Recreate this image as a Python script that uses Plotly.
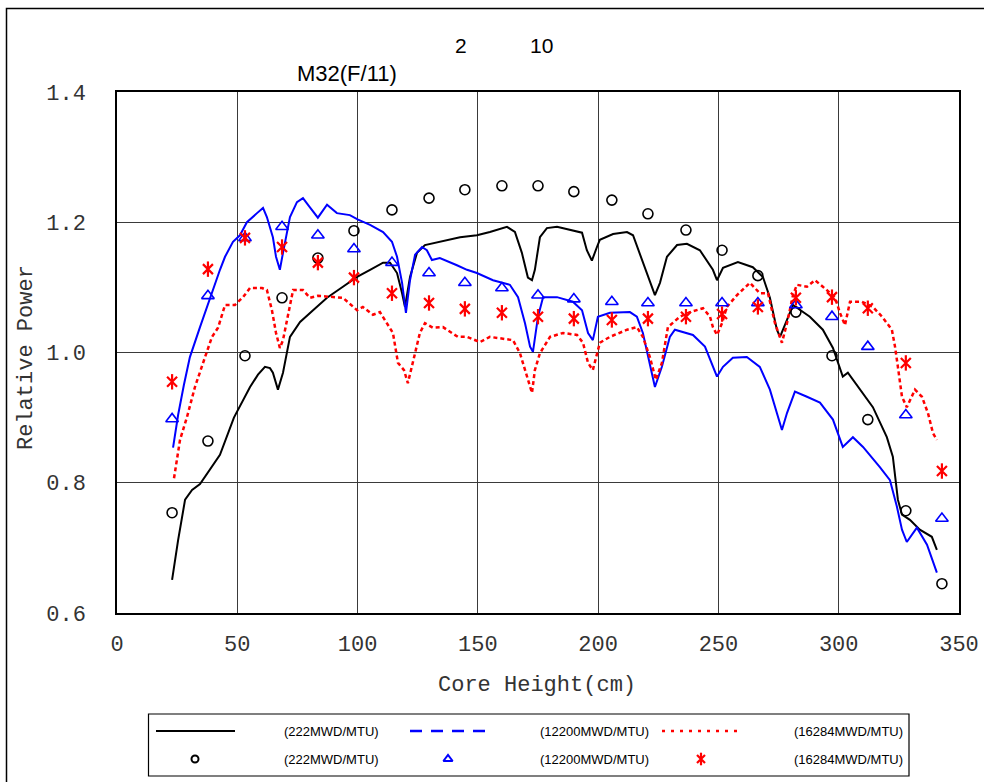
import plotly.graph_objects as go

W, H = 984, 782

# ---------------- data ----------------
# calculated lines
x_222 = [22.9, 25.4, 28.3, 31.2, 34.5, 38.7, 42.8, 48.6, 55.3, 58.6, 61.5, 63.6, 64.8, 66.9, 69.0,
         71.9, 76.1, 81.5, 87.3, 93.9, 99.8, 105.2, 110.6, 113.5, 116.4, 118.5, 119.7, 121.8, 124.7,
         128.0, 134.2, 142.6, 149.6, 155.0, 162.1, 165.4, 168.3, 170.8, 172.5, 173.7, 175.8, 178.7,
         182.9, 189.5, 193.3, 195.3, 197.4, 199.5, 200.7, 206.2, 212.0, 214.5, 218.2, 221.5, 223.6,
         225.7, 228.6, 232.8, 236.9, 242.3, 247.7, 249.4, 251.9, 258.1, 264.3, 268.5, 271.4, 274.3,
         275.6, 278.5, 281.0, 288.0, 293.4, 297.6, 301.7, 303.8, 308.8, 314.2, 320.0, 322.5, 324.6,
         326.3, 329.6, 333.7, 338.7, 340.8]
y_222 = [0.651, 0.712, 0.774, 0.789, 0.798, 0.820, 0.843, 0.900, 0.947, 0.966, 0.978, 0.976, 0.969,
         0.943, 0.969, 1.024, 1.047, 1.065, 1.084, 1.101, 1.116, 1.127, 1.138, 1.138, 1.122, 1.091,
         1.070, 1.116, 1.153, 1.165, 1.170, 1.177, 1.180, 1.185, 1.193, 1.185, 1.153, 1.115, 1.111,
         1.127, 1.177, 1.191, 1.193, 1.188, 1.184, 1.157, 1.141, 1.162, 1.173, 1.182, 1.185, 1.180,
         1.142, 1.107, 1.088, 1.107, 1.147, 1.165, 1.167, 1.157, 1.127, 1.111, 1.130, 1.139, 1.131,
         1.116, 1.084, 1.035, 1.024, 1.050, 1.073, 1.055, 1.035, 1.007, 0.963, 0.969, 0.943, 0.916,
         0.870, 0.840, 0.774, 0.751, 0.743, 0.728, 0.717, 0.697]

x_12200 = [23.3, 25.4, 27.8, 30.3, 34.5, 38.7, 42.8, 44.9, 48.2, 51.1, 54.0, 58.2, 60.7, 62.3, 64.8,
           66.1, 67.7, 69.0, 71.9, 74.8, 77.3, 80.2, 83.5, 87.3, 91.4, 96.8, 100.2, 105.2, 110.6,
           114.3, 116.4, 118.5, 120.1, 121.8, 123.9, 126.8, 128.8, 130.9, 134.2, 141.3, 145.5, 149.6,
           156.3, 163.3, 166.7, 169.6, 171.7, 172.9, 175.0, 177.1, 182.9, 189.5, 193.3, 195.8, 197.8,
           199.9, 204.9, 213.2, 216.1, 218.6, 221.5, 223.6, 226.5, 229.8, 231.9, 236.9, 239.4, 244.4,
           249.4, 251.9, 256.0, 261.8, 267.2, 271.4, 276.4, 278.5, 281.8, 286.8, 292.2, 297.6, 301.7,
           305.9, 310.1, 317.1, 321.3, 324.2, 326.3, 328.3, 332.5, 336.7, 340.8]
y_12200 = [0.854, 0.904, 0.950, 0.993, 1.039, 1.085, 1.127, 1.147, 1.170, 1.180, 1.200, 1.214, 1.222,
           1.208, 1.177, 1.147, 1.127, 1.153, 1.208, 1.231, 1.237, 1.223, 1.207, 1.227, 1.214, 1.211,
           1.204, 1.196, 1.185, 1.170, 1.147, 1.107, 1.061, 1.111, 1.150, 1.162, 1.157, 1.142, 1.145,
           1.134, 1.127, 1.122, 1.111, 1.104, 1.085, 1.045, 1.009, 1.001, 1.055, 1.085, 1.085, 1.078,
           1.065, 1.030, 1.019, 1.055, 1.061, 1.062, 1.055, 1.030, 0.984, 0.947, 0.978, 1.024, 1.035,
           1.029, 1.027, 1.009, 0.963, 0.978, 0.992, 0.993, 0.978, 0.943, 0.881, 0.907, 0.940, 0.932,
           0.923, 0.897, 0.855, 0.870, 0.855, 0.824, 0.804, 0.763, 0.728, 0.709, 0.731, 0.705, 0.662]

x_16284 = [23.7, 26.2, 29.1, 32.4, 36.6, 39.5, 42.0, 44.9, 49.0, 52.4, 55.3, 60.3, 62.3, 64.4, 66.1,
           67.7, 69.0, 71.1, 73.2, 77.3, 80.2, 83.5, 88.5, 93.9, 99.8, 102.2, 106.4, 109.3, 114.7,
           116.8, 119.3, 120.9, 123.9, 125.9, 128.0, 131.3, 135.5, 141.7, 145.5, 150.9, 155.0, 159.2,
           164.6, 167.5, 170.4, 172.5, 173.7, 175.8, 180.0, 185.4, 191.2, 193.7, 195.8, 197.8, 200.7,
           204.9, 212.0, 216.1, 218.6, 221.5, 224.0, 226.5, 229.0, 234.0, 238.2, 243.6, 246.5, 247.7,
           249.4, 251.5, 253.5, 257.7, 263.1, 267.2, 270.6, 273.5, 276.4, 278.5, 281.0, 282.6, 286.8,
           290.1, 293.4, 298.4, 300.5, 302.6, 304.7, 309.6, 314.2, 318.0, 322.1, 323.4, 324.6, 326.3,
           328.3, 331.7, 334.6, 337.1, 339.2, 340.8]
y_16284 = [0.807, 0.866, 0.901, 0.947, 0.993, 1.024, 1.038, 1.073, 1.073, 1.085, 1.099, 1.099, 1.096,
           1.065, 1.030, 1.007, 1.019, 1.055, 1.096, 1.096, 1.084, 1.087, 1.085, 1.084, 1.065, 1.070,
           1.058, 1.062, 1.030, 0.984, 0.973, 0.953, 0.999, 1.030, 1.045, 1.038, 1.039, 1.024, 1.024,
           1.016, 1.024, 1.022, 1.019, 0.999, 0.963, 0.938, 0.973, 0.999, 1.024, 1.030, 1.027, 1.015,
           0.984, 0.973, 1.015, 1.024, 1.035, 1.039, 1.024, 0.993, 0.958, 0.984, 1.039, 1.055, 1.062,
           1.068, 1.055, 1.039, 1.027, 1.045, 1.070, 1.088, 1.107, 1.091, 1.091, 1.045, 1.015, 1.045,
           1.088, 1.104, 1.101, 1.111, 1.101, 1.085, 1.061, 1.042, 1.078, 1.078, 1.070, 1.055, 1.035,
           1.009, 0.978, 0.932, 0.916, 0.943, 0.932, 0.907, 0.876, 0.866]

# measured points
x_meas = [22.9, 37.8, 53.2, 68.6, 83.5, 98.5, 114.3, 129.7, 144.6, 160.0, 175.0, 189.9, 205.7,
          220.7, 236.5, 251.5, 266.4, 282.2, 297.2, 312.1, 327.9, 342.9]
m_222 = [0.754, 0.864, 0.995, 1.084, 1.145, 1.187, 1.219, 1.237, 1.250, 1.256, 1.256, 1.247, 1.234,
         1.213, 1.188, 1.157, 1.118, 1.062, 0.995, 0.897, 0.757, 0.645]
m_12200 = [0.898, 1.087, 1.176, 1.193, 1.180, 1.159, 1.138, 1.122, 1.107, 1.099, 1.088, 1.082, 1.078,
           1.076, 1.076, 1.076, 1.076, 1.073, 1.055, 1.009, 0.904, 0.745]
m_16284 = [0.955, 1.128, 1.176, 1.162, 1.138, 1.115, 1.091, 1.076, 1.067, 1.061, 1.055, 1.052, 1.050,
           1.052, 1.055, 1.059, 1.070, 1.084, 1.085, 1.068, 0.984, 0.818]

legend_labels = ["(222MWD/MTU)", "(12200MWD/MTU)", "(16284MWD/MTU)"]
x_ticks = [0, 50, 100, 150, 200, 250, 300, 350]
y_ticks = [0.6, 0.8, 1.0, 1.2, 1.4]

# ---------------- figure ----------------
MONO = "Liberation Mono, Courier New, monospace"
SANS = "Liberation Sans, Arial, sans-serif"
TXT = "#333333"

PL, PR, PT, PB = 117, 959, 92, 613   # plot area in pixels

fig = go.Figure()

fig.add_trace(go.Scatter(x=x_222, y=y_222, mode="lines", line=dict(color="black", width=2), showlegend=False))
fig.add_trace(go.Scatter(x=x_12200, y=y_12200, mode="lines", line=dict(color="#0000ff", width=2), showlegend=False))
fig.add_trace(go.Scatter(x=x_16284, y=y_16284, mode="lines",
                         line=dict(color="#ff0000", width=2.5, dash="4px,3px"), showlegend=False))

fig.add_trace(go.Scatter(x=x_meas, y=m_222, mode="markers", cliponaxis=False,
                         marker=dict(symbol="circle-open", size=10, color="black", line=dict(width=1.6)),
                         showlegend=False))
fig.add_trace(go.Scatter(x=x_meas, y=m_12200, mode="markers", cliponaxis=False,
                         marker=dict(symbol="triangle-up-open", size=11, color="#0000ff", line=dict(width=1.6)),
                         showlegend=False))
# asterisk drawn as an X plus a vertical bar
fig.add_trace(go.Scatter(x=x_meas, y=m_16284, mode="markers", cliponaxis=False,
                         marker=dict(symbol="x-thin-open", size=10, color="#ff0000", line=dict(width=2.2, color="#ff0000")),
                         showlegend=False))
fig.add_trace(go.Scatter(x=x_meas, y=m_16284, mode="markers", cliponaxis=False,
                         marker=dict(symbol="line-ns-open", size=11, color="#ff0000", line=dict(width=2.2, color="#ff0000")),
                         showlegend=False))

# ----- custom legend on a pixel overlay axis -----
row1, row2 = 731, 759
line_seg = [(156, 235), (410, 488), (662, 740)]
line_styles = [dict(color="black", width=2), dict(color="#0000ff", width=2.5, dash="12px,9px"),
               dict(color="#ff0000", width=2.5, dash="3px,6px")]
for (a, b), st in zip(line_seg, line_styles):
    fig.add_trace(go.Scatter(x=[a, b], y=[row1, row1], mode="lines", line=st, xaxis="x2", yaxis="y2",
                             showlegend=False, hoverinfo="skip", cliponaxis=False))
mk_x = [195, 448, 701]
mk_styles = [[dict(symbol="circle-open", size=7, color="black", line=dict(width=2))],
             [dict(symbol="triangle-up-open", size=8, color="#0000ff", line=dict(width=2))],
             [dict(symbol="x-thin-open", size=8, color="#ff0000", line=dict(width=2.2, color="#ff0000")),
              dict(symbol="line-ns-open", size=9, color="#ff0000", line=dict(width=2.2, color="#ff0000"))]]
for xx, sts in zip(mk_x, mk_styles):
    for st in sts:
        fig.add_trace(go.Scatter(x=[xx], y=[row2], mode="markers", marker=st, xaxis="x2", yaxis="y2",
                                 showlegend=False, hoverinfo="skip", cliponaxis=False))

annotations = []
text_right = [381, 651, 905]
for xr, lab in zip(text_right, legend_labels):
    for yy in (row1, row2):
        annotations.append(dict(x=xr / W, y=1 - yy / H, xref="paper", yref="paper", text=lab,
                                showarrow=False, xanchor="right", yanchor="middle",
                                font=dict(family=SANS, size=13, color="black")))

# titles
annotations.append(dict(x=347 / W, y=1 - 74 / H, xref="paper", yref="paper", text="M32(F/11)", showarrow=False,
                        xanchor="center", yanchor="middle", font=dict(family=SANS, size=22, color="black")))
annotations.append(dict(x=461 / W, y=1 - 45 / H, xref="paper", yref="paper", text="2", showarrow=False,
                        xanchor="center", yanchor="middle", font=dict(family=SANS, size=21, color="black")))
annotations.append(dict(x=541 / W, y=1 - 45 / H, xref="paper", yref="paper", text="10", showarrow=False,
                        xanchor="center", yanchor="middle", font=dict(family=SANS, size=21, color="black")))
annotations.append(dict(x=537 / W, y=1 - 685 / H, xref="paper", yref="paper", text="Core Height(cm)", showarrow=False,
                        xanchor="center", yanchor="middle", font=dict(family=MONO, size=22, color=TXT)))
annotations.append(dict(x=26 / W, y=1 - 358 / H, xref="paper", yref="paper", text="Relative Power", showarrow=False,
                        textangle=-90, xanchor="center", yanchor="middle", font=dict(family=MONO, size=22, color=TXT)))

shapes = [
    # outer frame (right/bottom edges fall outside the window)
    dict(type="rect", xref="paper", yref="paper", x0=6.5 / W, x1=1.05, y0=-0.05, y1=1 - 8.5 / H,
         line=dict(color="black", width=1.5), fillcolor="rgba(0,0,0,0)", layer="above"),
    # legend box
    dict(type="rect", xref="paper", yref="paper", x0=148.5 / W, x1=909 / W, y0=1 - 776 / H, y1=1 - 714 / H,
         line=dict(color="black", width=1.2), fillcolor="rgba(0,0,0,0)"),
]

fig.update_layout(
    width=W, height=H,
    margin=dict(l=0, r=0, t=0, b=0),
    paper_bgcolor="white", plot_bgcolor="rgba(0,0,0,0)",
    showlegend=False,
    xaxis=dict(domain=[PL / W, PR / W], range=[0, 350], tickvals=x_ticks, ticktext=[str(v) for v in x_ticks],
               showgrid=True, gridcolor="#3a3a3a", gridwidth=1, zeroline=False,
               showline=True, linecolor="black", linewidth=1.5, mirror=True, ticks="",
               ticklabelstandoff=10, automargin=False,
               tickfont=dict(family=MONO, size=22, color=TXT)),
    yaxis=dict(domain=[1 - PB / H, 1 - PT / H], range=[0.6, 1.4], tickvals=y_ticks,
               ticktext=["%.1f" % v for v in y_ticks],
               showgrid=True, gridcolor="#3a3a3a", gridwidth=1, zeroline=False,
               showline=True, linecolor="black", linewidth=1.5, mirror=True, ticks="",
               ticklabelstandoff=25, automargin=False,
               tickfont=dict(family=MONO, size=22, color=TXT)),
    xaxis2=dict(domain=[0, 1], range=[0, W], visible=False, anchor="y2", fixedrange=True),
    yaxis2=dict(domain=[0, 1], range=[H, 0], visible=False, anchor="x2", fixedrange=True),
    annotations=annotations,
    shapes=shapes,
)

fig.write_html("out.html")
